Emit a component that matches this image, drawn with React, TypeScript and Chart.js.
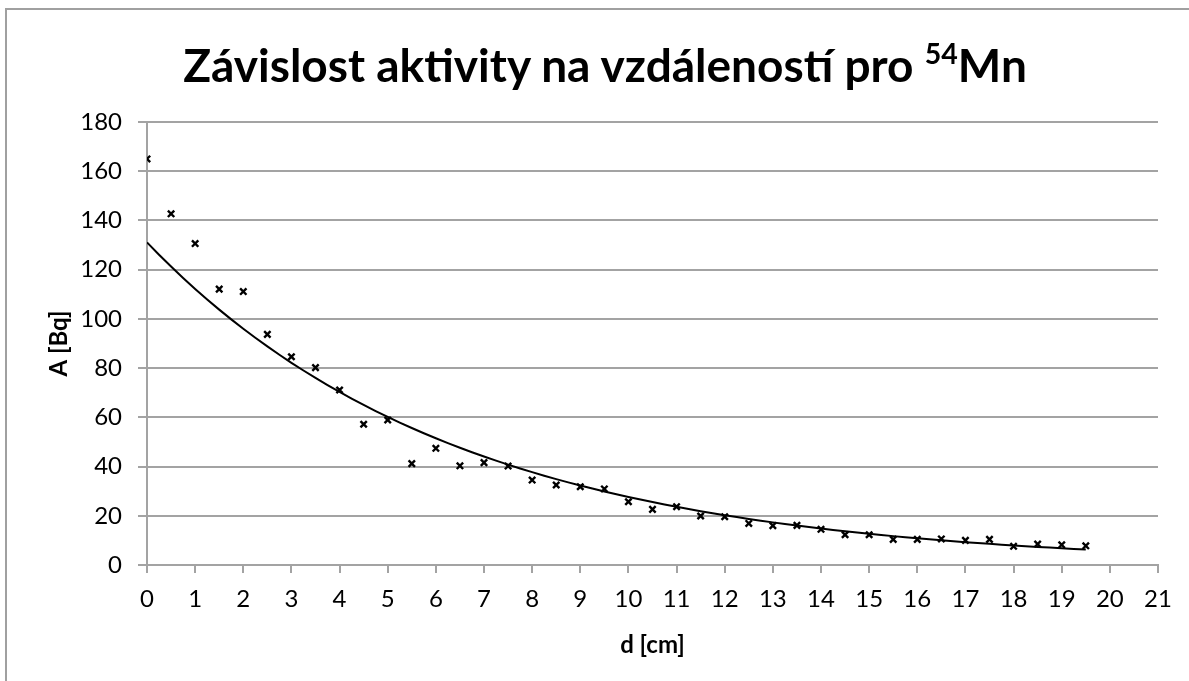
import React, { useEffect, useRef } from "react";
import { Chart, registerables } from "chart.js";

Chart.register(...registerables);

const distances = [
  0, 0.5, 1, 1.5, 2, 2.5, 3, 3.5, 4, 4.5, 5, 5.5, 6, 6.5, 7, 7.5, 8, 8.5, 9, 9.5,
  10, 10.5, 11, 11.5, 12, 12.5, 13, 13.5, 14, 14.5, 15, 15.5, 16, 16.5, 17, 17.5, 18, 18.5, 19, 19.5,
];
const activity = [
  165, 142.7, 130.6, 112.1, 111.1, 93.7, 84.6, 80.2, 71.1, 57.2, 58.9, 41.2, 47.4, 40.3, 41.6, 40.2,
  34.5, 32.5, 31.8, 30.9, 25.7, 22.6, 23.7, 19.9, 19.6, 16.9, 16.0, 16.1, 14.5, 12.3, 12.3, 10.4,
  10.4, 10.6, 10.0, 10.4, 7.6, 8.5, 8.2, 7.8,
];
const xTicks = [0, 1, 2, 3, 4, 5, 6, 7, 8, 9, 10, 11, 12, 13, 14, 15, 16, 17, 18, 19, 20, 21];
const yTicks = [0, 20, 40, 60, 80, 100, 120, 140, 160, 180];

const titleMain = "Závislost aktivity na vzdáleností pro ";
const titleSup = "54";
const titleEnd = "Mn";
const xTitle = "d [cm]";
const yTitle = "A [Bq]";

// Exponential trendline fitted (least squares on ln A) from the measured data, like Excel's trendline
function expFit(xs: number[], ys: number[]) {
  const n = xs.length;
  const ly = ys.map((v) => Math.log(v));
  const mx = xs.reduce((a, b) => a + b, 0) / n;
  const my = ly.reduce((a, b) => a + b, 0) / n;
  let sxy = 0;
  let sxx = 0;
  for (let i = 0; i < n; i++) {
    sxy += (xs[i] - mx) * (ly[i] - my);
    sxx += (xs[i] - mx) * (xs[i] - mx);
  }
  const k = sxy / sxx;
  const a = Math.exp(my - k * mx);
  return { a, k };
}

const FONT = "Lato, 'Open Sans', sans-serif";
const GRID = "#a3a3a3";
const TICK_SIZE = 24;
const AXIS_TITLE_SIZE = 24;

export default function App() {
  const ref = useRef<HTMLCanvasElement | null>(null);

  useEffect(() => {
    if (!ref.current) return;
    const fit = expFit(distances, activity);
    const trendXs: number[] = [];
    const last = distances[distances.length - 1];
    for (let i = 0; i <= 78; i++) trendXs.push((last * i) / 78);
    const trend = trendXs.map((x) => ({ x, y: fit.a * Math.exp(fit.k * x) }));
    const pts = distances.map((x, i) => ({ x, y: activity[i] }));

    const chart = new Chart(ref.current, {
      type: "scatter",
      data: {
        datasets: [
          {
            label: "trend",
            type: "line",
            data: trend,
            borderColor: "#000",
            borderWidth: 2,
            pointRadius: 0,
            showLine: true,
            tension: 0,
            fill: false,
            order: 2,
          } as any,
          {
            label: "A",
            data: pts,
            pointStyle: "crossRot",
            pointRadius: 4.5,
            borderColor: "#000",
            backgroundColor: "#000",
            borderWidth: 2.4,
            order: 1,
          },
        ],
      },
      options: {
        responsive: false,
        animation: false,
        layout: { padding: { top: 122, right: 31, left: 0, bottom: 0 } },
        plugins: { legend: { display: false }, tooltip: { enabled: false } },
        scales: {
          x: {
            type: "linear",
            min: 0,
            max: 21,
            afterBuildTicks: (s: any) => {
              s.ticks = xTicks.map((v) => ({ value: v }));
            },
            afterFit: (s: any) => {
              s.height = 116;
            },
            ticks: {
              color: "#000",
              font: { family: FONT, size: TICK_SIZE },
              padding: 12,
              maxRotation: 0,
              autoSkip: false,
            },
            grid: { drawOnChartArea: false, drawTicks: true, tickLength: 8, color: GRID, lineWidth: 2 },
            border: { color: GRID, width: 2 },
            title: {
              display: true,
              text: xTitle,
              color: "#000",
              font: { family: FONT, size: AXIS_TITLE_SIZE, weight: "bold" },
              padding: { top: 0, bottom: 21 },
            },
          },
          y: {
            type: "linear",
            min: 0,
            max: 180,
            afterBuildTicks: (s: any) => {
              s.ticks = yTicks.map((v) => ({ value: v }));
            },
            afterFit: (s: any) => {
              s.width = 147;
            },
            ticks: {
              color: "#000",
              font: { family: FONT, size: TICK_SIZE },
              padding: 16,
            },
            grid: { color: GRID, lineWidth: 2, tickLength: 9, drawTicks: true },
            border: { color: GRID, width: 2 },
            title: {
              display: true,
              text: yTitle,
              color: "#000",
              font: { family: FONT, size: AXIS_TITLE_SIZE, weight: "bold" },
              padding: { top: 45, bottom: 0 },
            },
          },
        },
      },
    });
    return () => chart.destroy();
  }, []);

  return (
    <div
      style={{
        position: "absolute",
        left: 0,
        top: 0,
        width: 1189,
        height: 681,
        background: "#fff",
        overflow: "hidden",
      }}
    >
      <div
        style={{
          position: "absolute",
          left: 5,
          top: 8,
          width: 1300,
          height: 800,
          borderLeft: "2px solid #a0a0a0",
          borderTop: "2px solid #a0a0a0",
        }}
      />
      <canvas ref={ref} width={1189} height={681} style={{ position: "absolute", left: 0, top: 0 }} />
      <div
        style={{
          position: "absolute",
          left: 0,
          top: 35,
          width: 1210,
          textAlign: "center",
          fontFamily: FONT,
          fontWeight: "bold",
          fontSize: 46,
          lineHeight: "60px",
          color: "#000",
          whiteSpace: "nowrap",
        }}
      >
        {titleMain}
        <sup style={{ fontSize: "0.62em", verticalAlign: "0.62em", lineHeight: 0 }}>{titleSup}</sup>
        {titleEnd}
      </div>
    </div>
  );
}
